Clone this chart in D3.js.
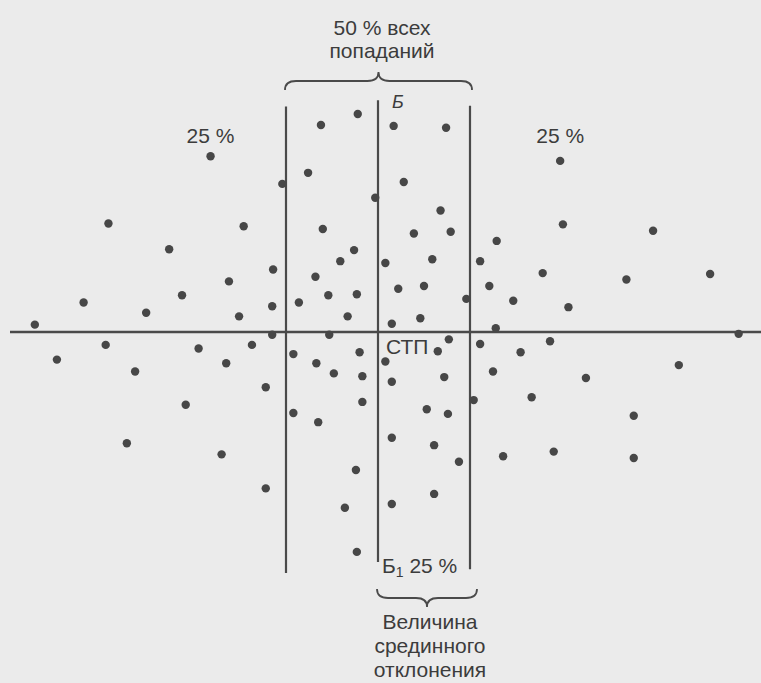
<!DOCTYPE html>
<html>
<head>
<meta charset="utf-8">
<script src="https://cdn.jsdelivr.net/npm/d3@7"></script>
<style>
  html, body { margin: 0; padding: 0; background: #ebebeb; }
  svg { display: block; }
  text { font-family: "Liberation Sans", Arial, sans-serif; fill: #3c3c3c; }
</style>
</head>
<body>
<div id="container"></div>
<script>
/* DATA: hit points in units of the median deviation (Б), СТП at 0,0 */
const pointX = [-0.22,-0.62,-1.82,-0.76,-1.04,-0.03,-2.93,-1.46,-0.60,-2.27,-0.26,-0.41,-1.14,-0.68,-1.62,-2.13,-0.54,-0.23,-3.20,-0.86,-1.15,-2.52,-0.33,-1.51,-3.73,
  0.17,0.74,1.98,0.28,0.68,2.01,2.99,0.39,0.79,1.29,0.08,0.59,1.11,1.79,3.61,2.70,0.22,0.50,1.21,0.96,1.47,2.07,0.15,0.46,1.28,3.92,
  -1.15,-0.53,-2.96,-1.37,-3.49,-1.95,-2.64,-1.65,-1.22,-2.09,-0.92,-0.67,-0.48,-0.20,-0.17,-0.17,-0.92,-0.65,-2.73,-1.70,-0.24,-1.22,-0.36,-0.23,
  0.77,1.11,1.87,0.65,0.08,1.55,3.27,0.15,0.72,1.25,2.26,1.04,1.67,0.53,0.76,2.78,0.15,0.61,0.88,1.36,1.91,2.78,0.61,0.15];
const pointY = [2.37,2.25,1.91,1.73,1.61,1.46,1.18,1.15,1.12,0.90,0.89,0.77,0.68,0.60,0.55,0.40,0.40,0.41,0.32,0.32,0.28,0.21,0.17,0.17,0.08,
  2.24,2.22,1.86,1.63,1.32,1.17,1.10,1.07,1.09,0.99,0.75,0.79,0.77,0.64,0.63,0.57,0.47,0.50,0.50,0.36,0.34,0.27,0.09,0.15,0.04,-0.02,
  -0.03,-0.03,-0.14,-0.14,-0.30,-0.18,-0.43,-0.34,-0.60,-0.79,-0.24,-0.34,-0.45,-0.22,-0.48,-0.76,-0.88,-0.98,-1.21,-1.33,-1.50,-1.70,-1.91,-2.39,
  -0.08,-0.13,-0.10,-0.21,-0.32,-0.22,-0.36,-0.54,-0.49,-0.43,-0.50,-0.74,-0.71,-0.84,-0.89,-0.91,-1.15,-1.23,-1.41,-1.35,-1.30,-1.37,-1.76,-1.87];

// dividing lines at -Б, 0, +Б with their vertical extent
const divX = [-1, 0, 1];
const divTop = [2.45, 2.52, 2.46];
const divBottom = [-2.62, -2.50, -2.58];

const quarterLabel = "25 %";
const topLabel = ["50 % всех", "попаданий"];
const bottomLabel = ["Величина", "срединного", "отклонения"];

/* CONSTANTS */
const width = 761, height = 683;

const xScale = d3.scaleLinear()
  .domain([-1, 1])
  .range([286, 470]);

const yScale = d3.scaleLinear()
  .domain([-1, 1])
  .range([424, 240]);

const svg = d3.select("#container")
  .append("svg")
  .attr("width", width)
  .attr("height", height);

svg.append("rect")
  .attr("width", width)
  .attr("height", height)
  .attr("fill", "#ebebeb");

// horizontal axis through СТП
svg.append("line")
  .attr("x1", 10)
  .attr("x2", width)
  .attr("y1", yScale(0))
  .attr("y2", yScale(0))
  .attr("stroke", "#4a4a4a")
  .attr("stroke-width", 2.5);

// vertical dividing lines
svg.selectAll(".div")
  .data(divX)
  .join("line")
  .attr("class", "div")
  .attr("x1", d => xScale(d))
  .attr("x2", d => xScale(d))
  .attr("y1", (d, i) => yScale(divTop[i]))
  .attr("y2", (d, i) => yScale(divBottom[i]))
  .attr("stroke", "#4a4a4a")
  .attr("stroke-width", 2.2);

// hits
svg.selectAll(".dot")
  .data(pointX.map((x, i) => ({x: x, y: pointY[i]})))
  .join("circle")
  .attr("class", "dot")
  .attr("cx", d => xScale(d.x))
  .attr("cy", d => yScale(d.y))
  .attr("r", 4.2)
  .attr("fill", "#474747");

// curly brace, d = -1 tip up, 1 tip down
function brace(x1, x2, y, d) {
  const h = 18, q = 9, r = 11, mid = (x1 + x2) / 2;
  const p = d3.path();
  p.moveTo(x1, y);
  p.quadraticCurveTo(x1, y + d*q, x1 + r, y + d*q);
  p.lineTo(mid - r, y + d*q);
  p.quadraticCurveTo(mid, y + d*q, mid, y + d*h);
  p.quadraticCurveTo(mid, y + d*q, mid + r, y + d*q);
  p.lineTo(x2 - r, y + d*q);
  p.quadraticCurveTo(x2, y + d*q, x2, y);
  return p.toString();
}

svg.append("path")
  .attr("d", brace(xScale(-1) - 1, xScale(1) + 2, 90, -1))
  .attr("fill", "none")
  .attr("stroke", "#4a4a4a")
  .attr("stroke-width", 1.8);

svg.append("path")
  .attr("d", brace(xScale(0) - 1, xScale(1) + 7, 589, 1))
  .attr("fill", "none")
  .attr("stroke", "#4a4a4a")
  .attr("stroke-width", 1.8);

// labels
svg.selectAll(".top")
  .data(topLabel)
  .join("text")
  .attr("class", "top")
  .attr("x", 382)
  .attr("y", (d, i) => 35 + i*23)
  .attr("text-anchor", "middle")
  .style("font-size", "21px")
  .text(d => d);

svg.selectAll(".bottom")
  .data(bottomLabel)
  .join("text")
  .attr("class", "bottom")
  .attr("x", 430)
  .attr("y", (d, i) => 629 + i*24)
  .attr("text-anchor", "middle")
  .style("font-size", "21px")
  .text(d => d);

svg.selectAll(".quarter")
  .data([-1.82, 1.98])
  .join("text")
  .attr("class", "quarter")
  .attr("x", d => xScale(d))
  .attr("y", 143)
  .attr("text-anchor", "middle")
  .style("font-size", "21px")
  .text(quarterLabel);

svg.append("text")
  .attr("x", 392)
  .attr("y", 108)
  .style("font-size", "18px")
  .style("font-style", "italic")
  .text("Б");

svg.append("text")
  .attr("x", 386)
  .attr("y", 354)
  .style("font-size", "21px")
  .text("СТП");

const b1 = svg.append("text")
  .attr("x", 382)
  .attr("y", 573)
  .style("font-size", "21px");
b1.append("tspan").text("Б");
b1.append("tspan").attr("dy", 4).style("font-size", "14px").text("1");
b1.append("tspan").attr("dy", -4).text(" " + quarterLabel);
</script>
</body>
</html>
